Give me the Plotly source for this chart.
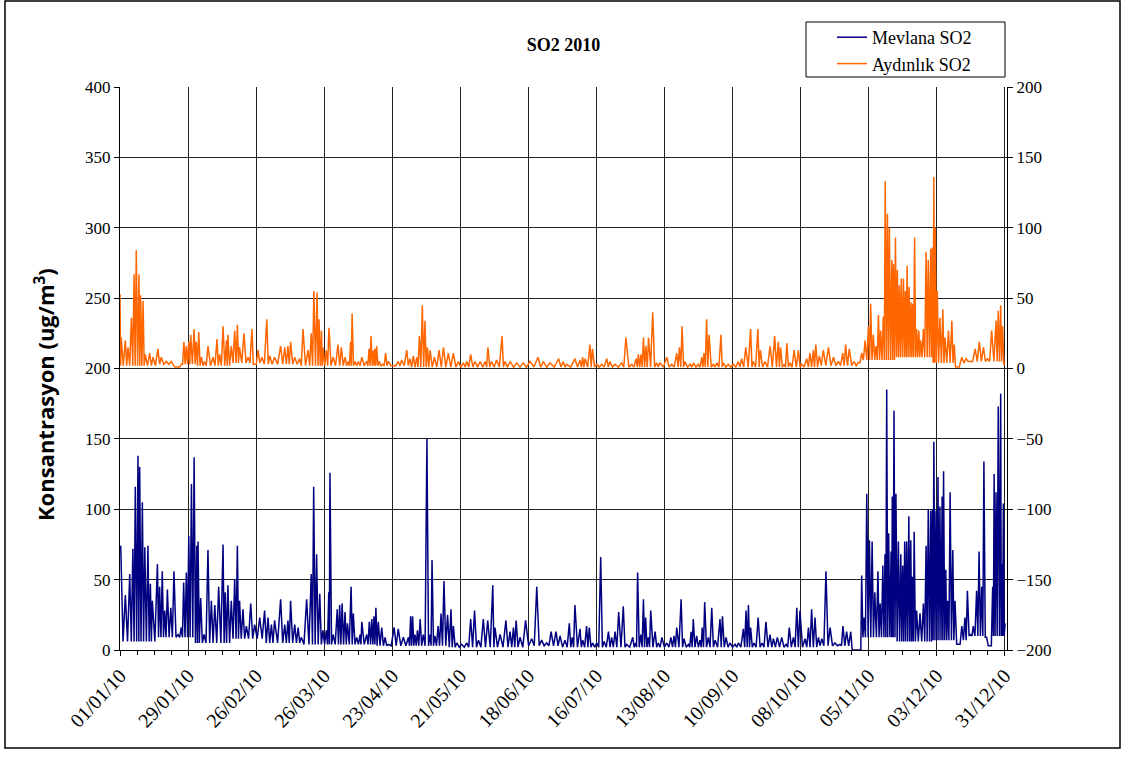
import pandas as pd
import plotly.graph_objects as go

# ---- data (day offset from 01/01/2010, value) ----
mev_peak_day = [0.3, 2.2, 4.0, 5.3, 6.3, 7.4, 8.1, 9.2, 10.2, 11.5, 12.5, 13.3, 15.4, 16.3, 17.4, 18.4, 19.5, 20.9, 22.2, 23.9,
                25.2, 26.2, 27.3, 28.3, 29.4, 30.5, 31.6, 32.1, 33.2, 34.6, 36.2, 37.6, 39.0, 40.6, 42.4, 43.3, 44.4, 45.8, 47.2, 48.3,
                49.2, 50.6, 52.0, 53.8, 55.4, 57.5, 59.5, 60.9, 62.3, 63.6, 66.1, 67.8, 69.1, 70.2, 71.9, 73.3, 74.6, 76.8, 78.7, 79.7,
                80.9, 82.2, 83.5, 84.9, 85.9, 86.4, 87.7, 89.4, 90.4, 91.4, 92.6, 93.6, 95.1, 96.0, 97.4, 98.8, 99.5, 101.5, 102.6, 103.6,
                104.5, 105.3, 106.3, 107.7, 109.1, 110.4, 112.8, 114.5, 116.6, 118.7, 119.6, 120.4, 121.4, 122.4, 123.5, 124.8, 126.3, 127.6, 128.4, 129.6,
                130.9, 132.1, 133.3, 134.8, 136.2, 137.2, 138.6, 140.6, 142.7, 144.3, 145.9, 147.5, 149.5, 151.3, 153.4, 154.3, 156.4, 158.8, 160.5, 161.9,
                163.0, 164.6, 166.9, 169.4, 171.5, 173.5, 175.6, 177.4, 179.4, 181.1, 183.1, 184.9, 186.1, 187.2, 189.3, 190.4, 192.0, 193.1, 194.5, 196.2,
                197.8, 199.2, 201.0, 202.3, 203.7, 205.2, 207.1, 208.5, 211.0, 212.1, 213.0, 214.3, 215.4, 216.3, 217.4, 218.4, 220.2, 221.5, 223.0, 225.0,
                226.7, 228.0, 229.1, 230.9, 232.1, 233.9, 235.0, 235.9, 237.3, 238.7, 239.6, 240.6, 242.1, 243.5, 244.9, 246.9, 247.9, 249.4, 251.0, 253.1,
                254.5, 256.5, 257.6, 258.6, 259.5, 260.9, 262.6, 264.2, 265.8, 267.5, 268.9, 270.5, 272.3, 274.1, 275.4, 277.1, 278.5, 279.8, 281.9, 283.3,
                284.6, 286.0, 287.4, 288.8, 290.5, 292.2, 294.2, 296.3, 297.5, 299.0, 300.7, 301.3, 304.5, 305.2, 306.2, 307.3, 308.4, 309.5, 310.6, 311.9,
                312.8, 313.9, 314.8, 315.5, 316.3, 317.3, 317.8, 318.5, 319.3, 320.3, 321.3, 322.1, 322.9, 323.7, 324.6, 325.4, 326.1, 326.8, 327.8, 329.2,
                330.6, 331.7, 332.6, 333.6, 334.3, 334.9, 335.8, 336.6, 337.4, 338.3, 338.9, 339.8, 340.6, 341.6, 342.7, 343.6, 345.0, 346.4, 347.7, 348.7,
                350.1, 351.1, 352.5, 353.5, 354.6, 355.5, 356.6, 358.0, 359.1, 359.7, 360.5, 361.4, 362.4, 362.9, 363.5, 364.2]
mev_peak_val = [74, 39, 54, 72, 116, 138, 130, 105, 73, 74, 47, 35, 61, 45, 56, 28, 43, 30, 56, 11,
                16, 48, 55, 81, 118, 137, 74, 77, 37, 11, 71, 35, 32, 45, 75, 41, 46, 35, 50, 74,
                35, 29, 17, 33, 18, 23, 28, 23, 18, 21, 36, 18, 21, 35, 18, 16, 9, 36, 54, 116,
                68, 40, 14, 14, 41, 126, 11, 29, 32, 33, 27, 19, 45, 26, 9, 11, 20, 11, 20, 22,
                24, 30, 20, 16, 9, 4, 16, 15, 9, 9, 24, 24, 11, 14, 22, 11, 150, 11, 64, 10,
                17, 26, 49, 25, 29, 17, 5, 4, 5, 22, 28, 7, 22, 21, 46, 16, 11, 21, 13, 16,
                21, 9, 21, 8, 45, 7, 5, 13, 13, 10, 7, 19, 9, 32, 15, 7, 17, 16, 5, 5,
                66, 6, 13, 9, 13, 27, 31, 4, 9, 5, 55, 11, 36, 23, 9, 28, 13, 5, 9, 5,
                9, 10, 16, 36, 8, 4, 13, 22, 10, 7, 16, 34, 9, 30, 7, 22, 24, 9, 5, 4,
                5, 15, 28, 32, 16, 5, 23, 5, 20, 11, 8, 9, 9, 4, 16, 9, 30, 28, 8, 16,
                29, 23, 9, 8, 56, 16, 5, 4, 17, 13, 13, 0, 0, 53, 23, 111, 78, 77, 41, 56,
                33, 60, 68, 185, 83, 70, 109, 170, 111, 77, 68, 60, 77, 77, 95, 78, 52, 84, 28, 26,
                33, 74, 100, 99, 100, 148, 99, 123, 102, 109, 127, 57, 35, 112, 71, 35, 4, 17, 23, 42,
                11, 17, 42, 70, 45, 134, 9, 3, 45, 125, 112, 173, 182, 61, 104, 19]

ayd_peak_day = [0.0, 0.5, 2.2, 3.3, 4.7, 5.8, 6.7, 7.8, 8.5, 9.5, 10.4, 12.2, 13.6, 15.6, 17.0, 19.1, 21.1, 23.9, 25.2, 26.3,
                27.3, 28.3, 29.1, 30.5, 31.4, 32.4, 33.5, 34.8, 36.2, 38.3, 39.9, 41.0, 42.4, 43.8, 44.4, 45.8, 47.2, 48.3, 49.2, 51.0,
                52.7, 54.3, 55.4, 56.8, 58.4, 60.4, 61.6, 63.6, 66.1, 67.8, 69.1, 70.2, 71.9, 73.9, 75.3, 77.4, 78.7, 79.8, 81.1, 81.9,
                82.9, 83.5, 84.9, 86.0, 87.7, 89.7, 91.1, 92.6, 93.9, 94.9, 95.5, 96.7, 98.1, 99.5, 101.5, 102.5, 103.3, 104.3, 104.9, 105.6,
                106.7, 108.1, 109.3, 110.4, 112.5, 114.5, 115.9, 118.0, 119.3, 120.7, 122.1, 123.2, 124.4, 125.5, 126.5, 127.6, 129.4, 131.3, 133.1, 135.1,
                137.2, 139.2, 141.3, 142.7, 144.3, 146.1, 148.2, 150.3, 151.4, 152.9, 155.0, 157.2, 158.4, 160.5, 163.3, 165.9, 168.7, 172.0, 174.2, 176.9,
                180.5, 182.4, 183.8, 187.2, 189.3, 190.4, 191.4, 193.4, 194.4, 196.2, 198.2, 200.3, 201.6, 203.7, 206.4, 208.2, 210.6, 212.4, 213.3, 214.4,
                215.4, 216.4, 217.5, 219.2, 220.8, 222.2, 225.0, 227.0, 229.1, 230.2, 231.3, 232.5, 234.6, 236.0, 238.0, 239.4, 240.3, 241.4, 242.4, 244.2,
                245.6, 247.3, 248.3, 250.3, 252.4, 254.4, 255.8, 257.5, 259.5, 260.6, 262.5, 263.5, 265.4, 267.5, 269.4, 270.9, 271.8, 273.3, 274.4, 275.7,
                277.4, 279.2, 280.5, 282.6, 283.9, 285.3, 286.3, 287.8, 289.4, 291.5, 293.6, 295.6, 297.4, 298.6, 300.1, 302.1, 303.8, 305.2, 306.6, 308.0,
                308.9, 310.0, 311.1, 312.1, 313.0, 314.1, 314.9, 315.8, 316.6, 317.6, 318.3, 319.1, 319.9, 320.7, 321.5, 322.4, 323.2, 323.9, 324.7, 325.5,
                326.2, 327.0, 327.8, 328.7, 329.5, 330.6, 331.7, 332.6, 333.6, 334.3, 334.9, 335.5, 336.3, 337.4, 338.6, 339.5, 340.9, 342.3, 343.3, 344.3,
                346.4, 348.2, 349.8, 351.9, 353.6, 355.3, 357.0, 358.7, 360.5, 361.4, 362.4, 363.2, 364.2]
ayd_peak_val = [53, 22, 20, 15, 36, 67, 84, 67, 52, 48, 10, 11, 8, 14, 8, 5, 5, 1, 3, 19,
                16, 19, 24, 28, 19, 26, 8, 5, 16, 8, 21, 10, 30, 20, 24, 16, 27, 31, 15, 25,
                8, 28, 3, 13, 8, 35, 9, 8, 16, 15, 16, 19, 8, 7, 28, 13, 25, 55, 54, 35,
                27, 15, 13, 29, 8, 17, 15, 8, 5, 19, 39, 5, 5, 8, 5, 14, 23, 13, 14, 16,
                5, 3, 11, 5, 2, 5, 6, 13, 7, 9, 8, 23, 45, 34, 15, 13, 8, 13, 15, 11,
                11, 5, 4, 5, 10, 5, 5, 5, 15, 5, 6, 23, 5, 5, 4, 4, 5, 8, 5, 4,
                7, 5, 3, 7, 6, 8, 7, 17, 14, 3, 3, 7, 5, 3, 4, 22, 3, 7, 10, 10,
                22, 16, 22, 40, 4, 4, 8, 3, 11, 15, 30, 5, 3, 4, 3, 8, 11, 35, 24, 3,
                4, 24, 4, 3, 3, 5, 7, 15, 28, 5, 28, 13, 5, 16, 23, 19, 15, 3, 18, 4,
                13, 13, 3, 7, 11, 13, 17, 9, 13, 15, 8, 5, 11, 17, 14, 5, 4, 11, 20, 30,
                46, 24, 16, 38, 27, 37, 133, 110, 100, 77, 74, 93, 70, 59, 64, 64, 55, 73, 58, 47,
                46, 93, 28, 27, 20, 28, 83, 77, 85, 86, 136, 100, 55, 36, 42, 22, 27, 34, 17, 1,
                8, 7, 5, 14, 19, 15, 7, 27, 34, 41, 45, 30, 3]

# typical low (trough) level for each half-month
mev_half_month_low = [6, 9, 5, 8, 5, 4, 4, 3, 3, 2, 2, 3, 2, 2, 2, 2, 2, 2, 2, 3, 9, 6, 7, 10]
ayd_half_month_low = [2, 3, 2, 4, 3, 2, 2, 2, 1, 1, 1, 1, 1, 1, 1, 1, 1, 1, 1, 2, 6, 8, 4, 5]

tick_days = [0, 28, 56, 84, 112, 140, 168, 196, 224, 252, 280, 308, 336, 364]
start = pd.Timestamp("2010-01-01")


def build(days, vals, lows):
    xs, ys = [], []
    for i, (d, v) in enumerate(zip(days, vals)):
        xs.append(d)
        ys.append(v)
        if i < len(days) - 1:
            mid = (d + days[i + 1]) / 2
            t = start + pd.to_timedelta(mid, unit="D")
            k = (t.month - 1) * 2 + (1 if t.day > 15 else 0)
            xs.append(mid)
            ys.append(min(lows[k], v, vals[i + 1]))
    xd = [start + pd.to_timedelta(x, unit="D") for x in xs]
    return xd, ys


mx, my = build(mev_peak_day, mev_peak_val, mev_half_month_low)
ax, ay = build(ayd_peak_day, ayd_peak_val, ayd_half_month_low)

serif = "Liberation Serif"
W, H = 1126, 760
L, R, T, B = 120, 119, 87, 110
PW, PH = W - L - R, H - T - B

fig = go.Figure()
fig.add_trace(go.Scatter(x=mx, y=my, mode="lines", name="Mevlana SO2",
                         line=dict(color="#000080", width=1.5), yaxis="y"))
fig.add_trace(go.Scatter(x=ax, y=ay, mode="lines", name="Aydınlık SO2",
                         line=dict(color="#FF6600", width=1.5), yaxis="y2"))

tickvals = [start + pd.Timedelta(days=d) for d in tick_days]
ticktext = [t.strftime("%d/%m/%y") for t in tickvals]

fig.update_layout(
    width=W, height=H,
    margin=dict(l=L, r=R, t=T, b=B, autoexpand=False),
    paper_bgcolor="white", plot_bgcolor="white",
    title=dict(text="<b>SO2 2010</b>", x=0.5, xanchor="center", xref="paper",
               y=1 - 45 / H, yanchor="middle",
               font=dict(family=serif, size=18, color="black")),
    font=dict(family=serif, size=16, color="black"),
    showlegend=True,
    legend=dict(xref="container", yref="container", x=832 / W, y=1 - 19 / H,
                xanchor="left", yanchor="top",
                bgcolor="rgba(0,0,0,0)", borderwidth=0,
                font=dict(family=serif, size=18, color="black"),
                itemwidth=30, tracegroupgap=0),
    xaxis=dict(type="date", range=[start, start + pd.Timedelta(days=365)], automargin=False,
               tickmode="array", tickvals=tickvals, ticktext=ticktext,
               tickangle=-47, ticks="outside", ticklen=5, tickcolor="black",
               showgrid=True, gridcolor="#222222", gridwidth=1,
               showline=True, linecolor="black", linewidth=1,
               tickfont=dict(family=serif, size=20, color="black"),
               minor=dict(tick0=start, dtick=7 * 86400000, ticks="outside",
                          ticklen=4, tickcolor="black", showgrid=False),
               zeroline=False),
    yaxis=dict(range=[0, 400], dtick=50, tick0=0, ticks="outside", ticklen=5, tickcolor="black",
               automargin=False,
               showgrid=True, gridcolor="#222222", gridwidth=1,
               showline=True, linecolor="black", linewidth=1, zeroline=False,
               tickfont=dict(family=serif, size=17, color="black")),
    yaxis2=dict(range=[-200, 200], dtick=50, tick0=-200, overlaying="y", side="right",
                automargin=False,
                ticks="outside", ticklen=5, tickcolor="black", showgrid=False,
                showline=True, linecolor="black", linewidth=1, zeroline=False,
                tickfont=dict(family=serif, size=17, color="black")),
)

# y-axis title (placed like the reference, centred lower than the plot middle)
fig.add_annotation(text="<b>Konsantrasyon (ug/m<sup>3</sup>)</b>", textangle=-90,
                   xref="paper", yref="paper", x=(45 - L) / PW, y=(H - B - 395) / PH,
                   xanchor="center", yanchor="middle", showarrow=False,
                   font=dict(family="Open Sans", size=22, color="black"))

# outer frame of the chart area
fig.add_shape(type="rect", xref="paper", yref="paper",
              x0=(5 - L) / PW, x1=(1120 - L) / PW,
              y0=(H - B - 748) / PH, y1=(H - B - 1) / PH,
              line=dict(color="black", width=1.5), fillcolor="rgba(0,0,0,0)", layer="below")
# legend box
fig.add_shape(type="rect", xref="paper", yref="paper",
              x0=(806 - L) / PW, x1=(1005 - L) / PW,
              y0=(H - B - 77) / PH, y1=(H - B - 22) / PH,
              line=dict(color="black", width=1), fillcolor="white", layer="above")

fig.write_html("out.html", config={"displayModeBar": False},
               post_script="document.body.style.margin='0px';document.body.style.overflow='hidden';")
